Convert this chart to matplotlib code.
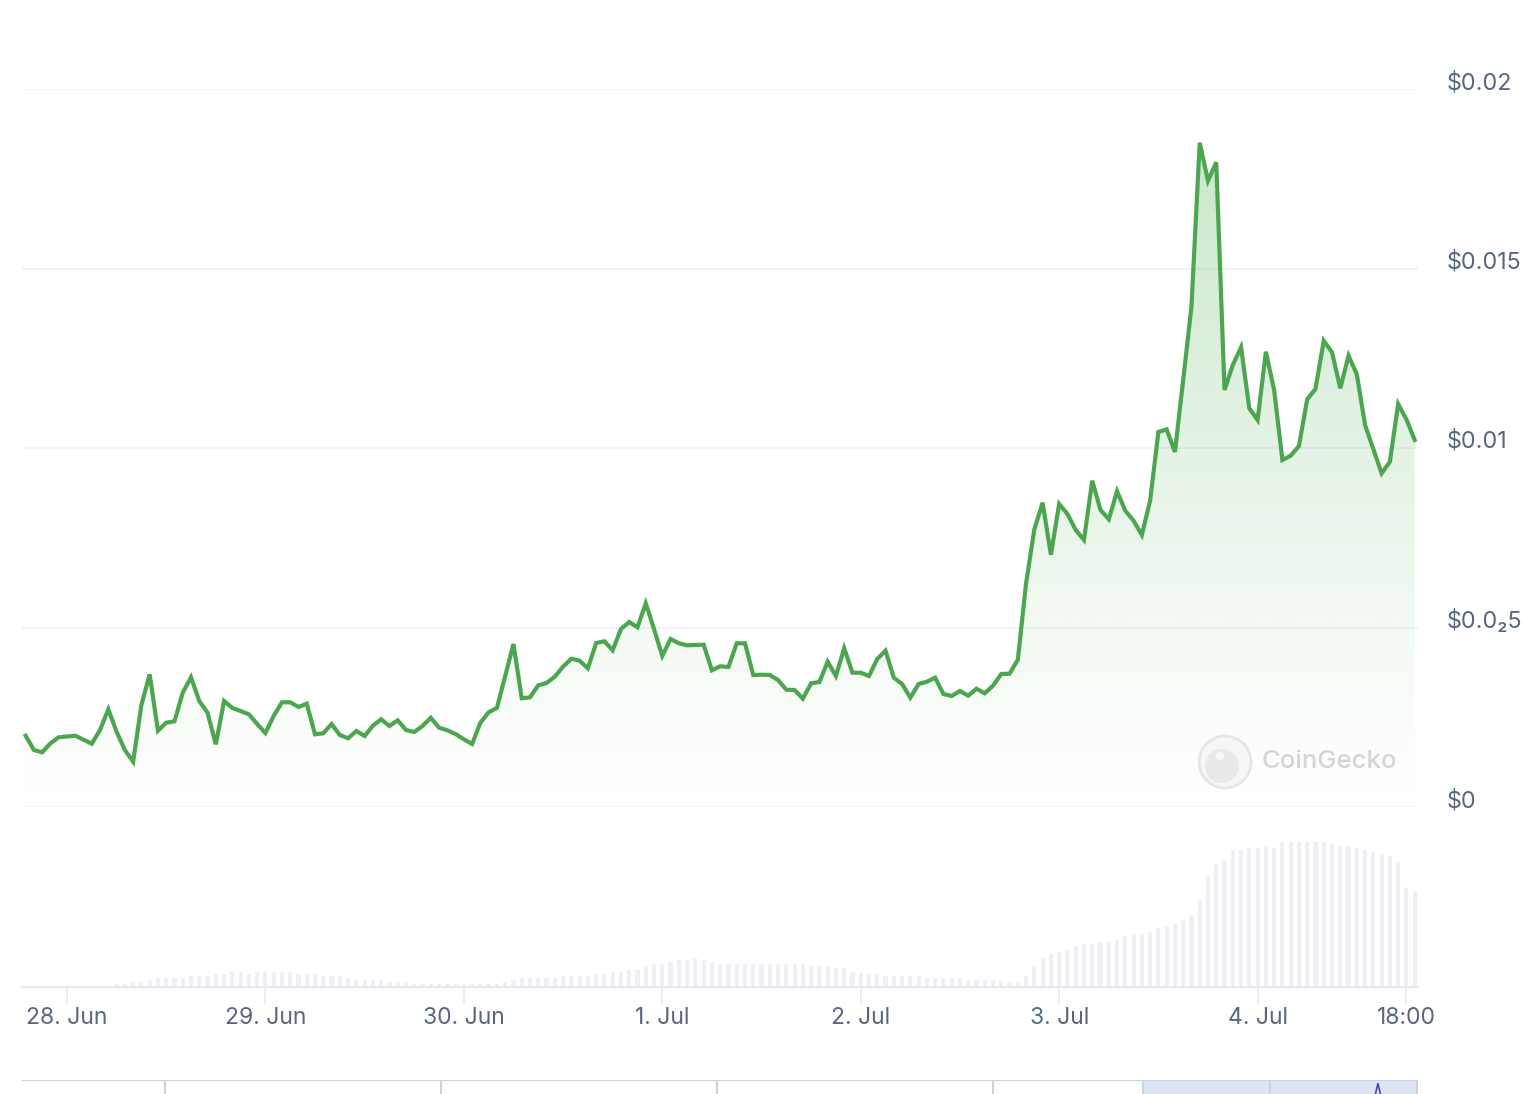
import numpy as np
import pandas as pd
import matplotlib
matplotlib.use("Agg")
import matplotlib.pyplot as plt
import matplotlib.dates as mdates
from matplotlib.patches import Circle, Rectangle

plt.rcParams['font.family'] = ['Inter', 'DejaVu Sans']

# hourly price (USD), 27 Jun 19:00 -> 4 Jul 19:00
prices = [
    0.001986, 0.001588, 0.001524, 0.001774, 0.001942, 0.001964, 0.001986, 0.001875, 0.001763, 0.002145,
    0.002721, 0.002097, 0.001588, 0.001262, 0.002841, 0.003696, 0.002125, 0.002348, 0.002387, 0.003184,
    0.003613, 0.002953, 0.002627, 0.001747, 0.002953, 0.002758, 0.002674, 0.002582, 0.002312, 0.002061,
    0.002535, 0.002916, 0.002916, 0.002786, 0.002877, 0.002025, 0.002053, 0.002312, 0.002006, 0.001914,
    0.002117, 0.001978, 0.002265, 0.002443, 0.002256, 0.002415, 0.002145, 0.002089, 0.002256, 0.002487,
    0.002209, 0.002136, 0.002033, 0.001886, 0.001755, 0.002348, 0.002638, 0.002758, 0.003649, 0.004540,
    0.003028, 0.003056, 0.003390, 0.003454, 0.003630, 0.003908, 0.004131, 0.004075, 0.003864, 0.004568,
    0.004616, 0.004365, 0.004958, 0.005153, 0.005006, 0.005674, 0.004958, 0.004206, 0.004680, 0.004560,
    0.004504, 0.004513, 0.004521, 0.003808, 0.003919, 0.003900, 0.004560, 0.004560, 0.003677, 0.003685,
    0.003677, 0.003538, 0.003267, 0.003259, 0.003017, 0.003446, 0.003482, 0.004047, 0.003649, 0.004421,
    0.003741, 0.003741, 0.003649, 0.004123, 0.004354, 0.003602, 0.003426, 0.003045, 0.003426, 0.003490,
    0.003602, 0.003148, 0.003092, 0.003231, 0.003100, 0.003295, 0.003167, 0.003379, 0.003705, 0.003713,
    0.004103, 0.006231, 0.007735, 0.008476, 0.007028, 0.008440, 0.008162, 0.007716, 0.007437, 0.009089,
    0.008273, 0.008014, 0.008794, 0.008253, 0.007975, 0.007577, 0.008532, 0.010446, 0.010521, 0.009889,
    0.011894, 0.013936, 0.018504, 0.017446, 0.017958, 0.011616, 0.012312, 0.012805, 0.011106, 0.010780,
    0.012682, 0.011616, 0.009666, 0.009786, 0.010056, 0.011357, 0.011643, 0.012989, 0.012666, 0.011663,
    0.012571, 0.012053, 0.010641, 0.009964, 0.009295, 0.009619, 0.011226, 0.010799, 0.010223,
]

# hourly volume (relative units)
volumes = (
    [0] * 11
    + [3, 3, 5, 5, 7, 9, 9, 9, 9, 11, 11, 11, 13, 13, 15, 15, 13, 15, 15, 15, 15, 15, 13, 13, 13,
       11, 11, 11, 9, 7, 7, 7, 7, 5, 5, 5, 3, 3]
    + [3] * 9
    + [5, 7, 9, 9, 9, 9, 9, 11, 11, 11, 11, 13, 13, 15, 15, 17, 17, 21, 23, 23, 25, 27, 27, 29, 27, 25, 23]
    + [23] * 10
    + [21, 21, 20, 19, 19, 15, 14, 13, 13]
    + [11] * 5 + [9] * 5 + [7] * 4
    + [6, 5, 5]
    + [11, 21, 29, 33, 35, 37, 41, 43, 43, 45, 45, 47, 51, 53, 53, 55, 59, 61, 63, 67, 71, 87, 111, 123,
       127, 137, 137, 139, 139, 141, 139, 145, 145, 145, 145, 145, 145, 143, 141, 141, 139, 137, 135, 133,
       131, 125, 99, 95]
)

tick_times = ["2024-06-28 00:00", "2024-06-29 00:00", "2024-06-30 00:00", "2024-07-01 00:00",
              "2024-07-02 00:00", "2024-07-03 00:00", "2024-07-04 00:00", "2024-07-04 18:00"]
tick_labels = ["28. Jun", "29. Jun", "30. Jun", "1. Jul", "2. Jul", "3. Jul", "4. Jul", "18:00"]
price_ticks = [0, 0.005, 0.01, 0.015, 0.02]
price_labels = ["\\$0", "\\$0.0\u20825", "\\$0.01", "\\$0.015", "\\$0.02"]

times = pd.date_range("2024-06-27 19:00", periods=len(prices), freq="h")
x = mdates.date2num(times)

text_col = "#58667e"
grid_col = "#eff1f5"
green = "#4ca64f"

t0 = pd.Timestamp("2024-06-28 00:00")
xmin = mdates.date2num(t0 - pd.Timedelta(hours=5.44))
xmax = mdates.date2num(t0 + pd.Timedelta(hours=163.4))

W, H = 1530, 1094
fig = plt.figure(figsize=(W / 100, H / 100), dpi=100)
fig.patch.set_facecolor("white")

# --- price panel ---
ax = fig.add_axes([22 / W, (H - 807) / H, 1396 / W, 718 / H])
ax.set_xlim(xmin, xmax)
ax.set_ylim(0, 0.02)
for s in ax.spines.values():
    s.set_visible(False)
ax.set_xticks([])
ax.set_yticks([])
for v in price_ticks:
    ax.axhline(v, color=grid_col, lw=1.2, zorder=0)
for v, lab in zip(price_ticks, price_labels):
    ax.text(1.0208, v, lab, transform=ax.get_yaxis_transform(), ha="left", va="baseline",
            fontsize=16.8, color=text_col, clip_on=False)

# gradient fill under the line
top = max(prices)
grad = np.linspace(0, 1, 256).reshape(-1, 1)
rgba = np.zeros((256, 1, 4))
rgba[..., 0] = 76 / 255
rgba[..., 1] = 175 / 255
rgba[..., 2] = 80 / 255
rgba[..., 3] = 0.30 * grad[:, :1] ** 1.1
img = ax.imshow(rgba, extent=[x[0], x[-1], 0, top], origin="lower", aspect="auto", zorder=1,
                interpolation="bicubic")
poly = ax.fill_between(x, prices, 0, facecolor="none", edgecolor="none")
img.set_clip_path(poly.get_paths()[0], transform=ax.transData)
ax.plot(x, prices, color=green, lw=3.0, solid_joinstyle="miter", zorder=3)

# watermark
logo = Circle((1225, H - 762), 26, transform=None, facecolor="#f6f6f6", edgecolor="#e6e6e6",
              lw=2, zorder=2)
fig.patches.append(logo)
head = Circle((1222, H - 766), 17, transform=None, facecolor="#e8e8e8", edgecolor="none", zorder=3)
fig.patches.append(head)
eye = Circle((1220, H - 756), 4, transform=None, facecolor="#f8f8f8", edgecolor="none", zorder=4)
fig.patches.append(eye)
fig.text(1262 / W, (H - 761) / H, "CoinGecko", ha="left", va="center", fontsize=18.5,
         color="#d4d4d4", fontweight="medium")

# --- volume panel ---
axv = fig.add_axes([22 / W, (H - 987) / H, 1396 / W, 180 / H])
axv.set_xlim(xmin, xmax)
axv.set_ylim(0, 180)
axv.bar(x, volumes, width=0.5 / 24, color="#eff0f5", zorder=1)
for s in ["top", "left", "right"]:
    axv.spines[s].set_visible(False)
axv.spines["bottom"].set_color("#e6e9ef")
axv.spines["bottom"].set_linewidth(1.5)
axv.set_yticks([])
axv.set_xticks(mdates.date2num(pd.to_datetime(tick_times)))
axv.set_xticklabels(tick_labels, fontsize=16.5, color=text_col)
axv.tick_params(axis="x", length=12, width=1.2, color="#e6e9ef", pad=2.5)

# --- navigator strip ---
axn = fig.add_axes([22 / W, 0, 1396 / W, 14 / H])
axn.set_xlim(0, 1)
axn.set_ylim(0, 1)
axn.axis("off")
axn.add_patch(Rectangle((0.803, 0), 0.197, 1, facecolor="#dfe4f2", edgecolor="none"))
axn.axhline(1, color="#ccd2df", lw=1.5)
for sx in [0.1024, 0.3001, 0.4979, 0.6956, 0.803, 0.894, 0.9995]:
    axn.axvline(sx, color="#ccd2df", lw=1.5)
axn.plot([0.9695, 0.9713, 0.9731], [0.0, 0.75, 0.0], color="#3f4ea3", lw=1.2)

fig.savefig("out.png", dpi=100)
